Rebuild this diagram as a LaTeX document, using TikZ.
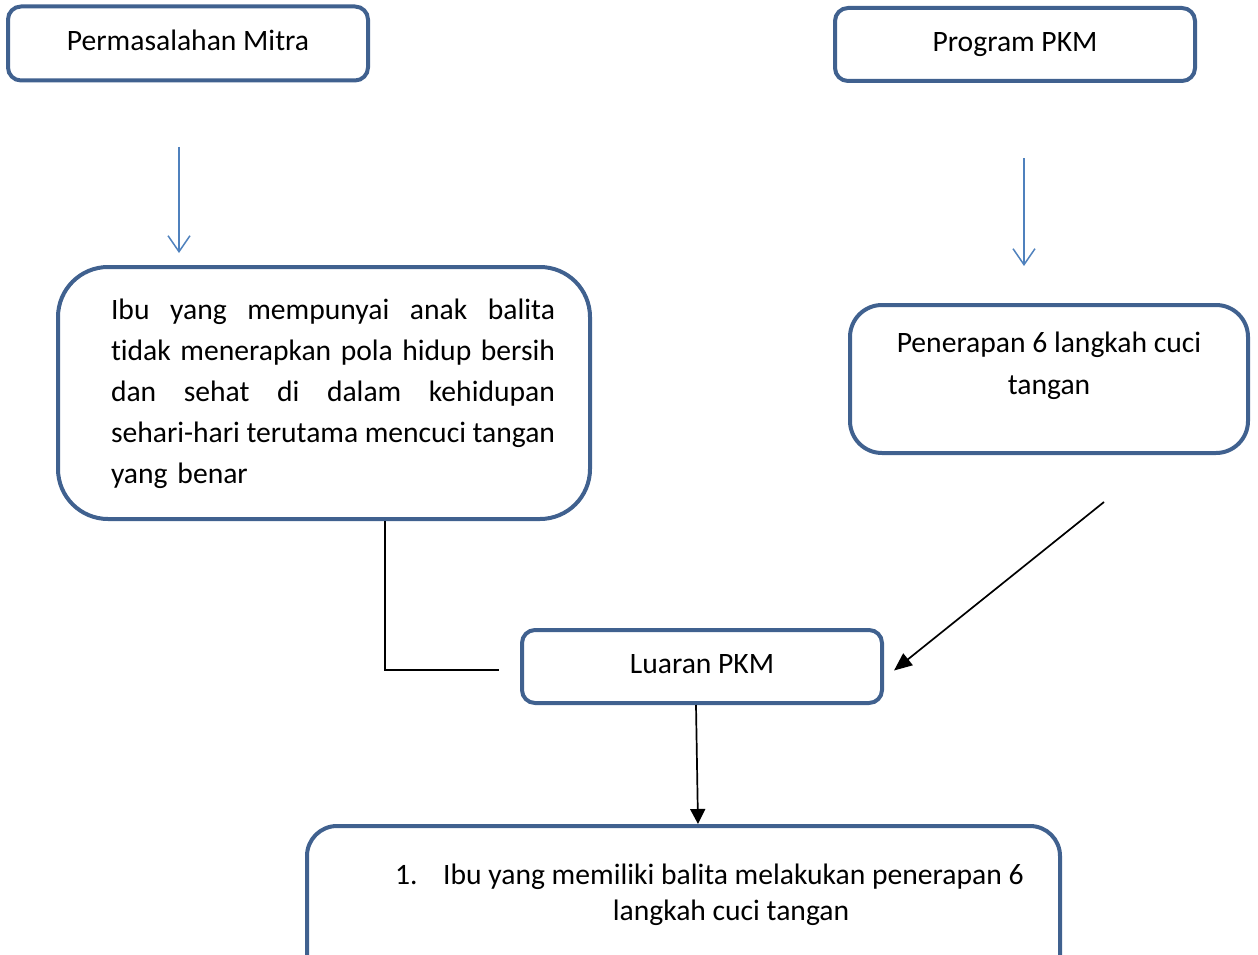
\documentclass[tikz,border=0pt]{standalone}
\usepackage{fontspec}
\setmainfont{Carlito}[Ligatures=NoCommon]
\usetikzlibrary{arrows.meta,calc}
\definecolor{boxblue}{RGB}{64,97,143}
\definecolor{arrowblue}{RGB}{79,129,189}
\newcommand{\jline}[1]{\leavevmode\hbox to 444pt{#1}}
\begin{document}
\begin{tikzpicture}[x=1pt,y=-1pt,
  font=\fontsize{29.6}{41}\selectfont,
  box/.style={draw=boxblue, line width=4pt, rounded corners=#1, inner sep=0pt,
    text height=20pt, text depth=6pt},
  box/.default=13pt,
  bluearrow/.style={draw=arrowblue, line width=1.5pt,
    -{Straight Barb[length=16pt,width=22pt,line width=1.5pt]}},
  blackline/.style={draw=black, line width=1.7pt},
  blackarrow/.style={blackline, -{Triangle[length=#1,width=15pt]}},
  blackarrow/.default=16pt]
\useasboundingbox (0,0) rectangle (1258,955);
\clip (0,0) rectangle (1258,955);

% boxes
\node[box, minimum width=360pt, minimum height=74pt] (b1) at (188,43.5) {Permasalahan Mitra};
\node[box, minimum width=360pt, minimum height=73pt] (b2) at (1015,44.5) {Program PKM};
\node[box=50pt, minimum width=532pt, minimum height=252pt] (b3) at (324,393) {};
\node[align=left, text width=444pt, inner sep=0pt] (t3) at (333,394) {%
\jline{Ibu\hfill yang\hfill mempunyai\hfill anak\hfill balita}\\
\jline{tidak\hfill menerapkan\hfill pola\hfill hidup\hfill bersih}\\
\jline{dan\hfill sehat\hfill di\hfill dalam\hfill kehidupan}\\
\jline{sehari-hari\hfill terutama\hfill mencuci\hfill tangan}\\
\leavevmode\hbox{yang benar}};
\node[box=32pt, minimum width=398pt, minimum height=148pt] (b4) at (1049,379) {};
\node[align=center, inner sep=0pt, font=\fontsize{29.6}{42}\selectfont] (t4) at (1049,365.5) {Penerapan 6 langkah cuci\\tangan};
\node[box, minimum width=360pt, minimum height=73pt] (b5) at (702,666.5) {Luaran PKM};
\node[box=30pt, minimum width=753pt, minimum height=160pt] (b6) at (683.5,906) {};
\node[anchor=base west, inner sep=0pt] (t6a) at (395,884) {\makebox[48pt][l]{1.}Ibu yang memiliki balita melakukan penerapan 6};
\node[anchor=base, inner sep=0pt] (t6b) at (731,920) {langkah cuci tangan};

% blue arrows
\coordinate (a1s) at (179,147);
\draw[bluearrow] (a1s) -- ($(a1s |- b3.north)+(0,-12)$);
\coordinate (a2s) at (1024,158);
\draw[bluearrow] (a2s) -- (1024,266);

% black connectors
\coordinate (c1) at (499,670);
\draw[blackline] ($(b3.south)+(61,0)$) |- (c1);
\coordinate (c2) at (1104,502);
\draw[blackarrow=18pt] (c2) -- ($(b5.east)+(10,4)$);
\draw[blackarrow=15pt] ($(b5.south)+(-6,0)$) -- ($(b6.north)+(14.5,0)$);
\end{tikzpicture}
\end{document}
